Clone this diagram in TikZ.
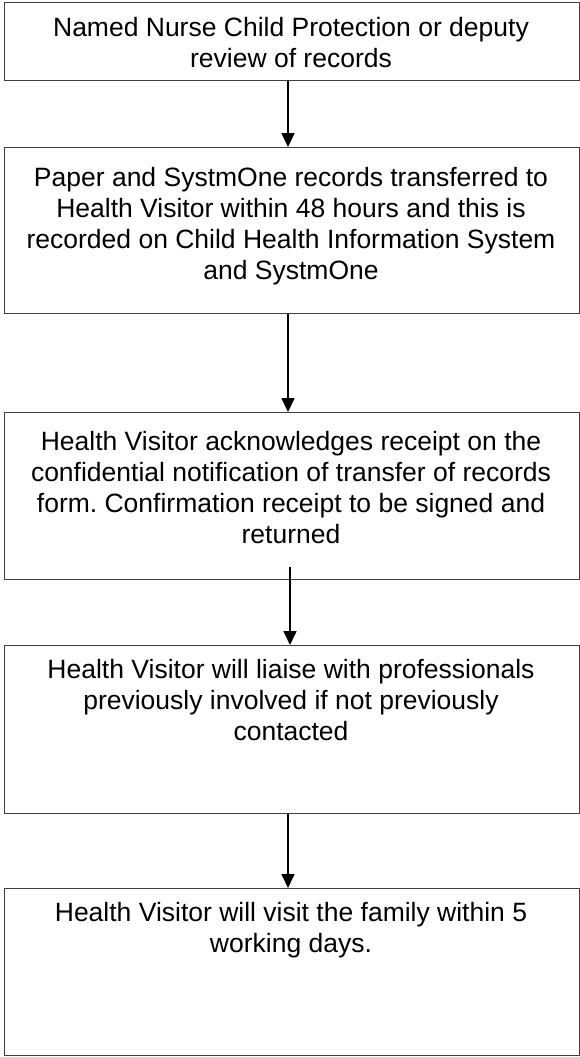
\documentclass[tikz,border=0pt]{standalone}
\usepackage{fontspec}
\setmainfont{Liberation Sans}
\usetikzlibrary{arrows.meta}
\frenchspacing
\tikzset{
  flowbox/.style={draw=black!75, line width=1.3pt, fill=white},
  flowtext/.style={anchor=north, align=center, inner sep=0pt, font=\fontsize{26.5}{31}\selectfont},
  flowarrow/.style={draw=black, line width=1.7pt, -{Triangle[width=13pt,length=14pt]}}
}
\begin{document}
\begin{tikzpicture}[x=1pt,y=-1pt]
\useasboundingbox (0,0) rectangle (580,1057);
% boxes
\node[flowbox, minimum width=575pt, minimum height=78pt, anchor=north west] (b1) at (3.5,2) {};
\node[flowbox, minimum width=575pt, minimum height=166pt, anchor=north west] (b2) at (3.5,147) {};
\node[flowbox, minimum width=575pt, minimum height=167pt, anchor=north west] (b3) at (3.5,412) {};
\node[flowbox, minimum width=575pt, minimum height=168pt, anchor=north west] (b4) at (3.5,645) {};
\node[flowbox, minimum width=575pt, minimum height=167pt, anchor=north west] (b5) at (3.5,888) {};
% texts
\node[flowtext] (t1) at (291,17) {Named Nurse Child Protection or deputy\\review of records};
\node[flowtext] (t2) at (291,167) {Paper and SystmOne records transferred to\\Health Visitor within 48 hours and this is\\recorded on Child Health Information System\\and SystmOne};
\node[flowtext] (t3) at (291,431) {Health Visitor acknowledges receipt on the\\confidential notification of transfer of records\\form. Confirmation receipt to be signed and\\returned};
\node[flowtext] (t4) at (291,659) {Health Visitor will liaise with professionals\\previously involved if not previously\\contacted};
\node[flowtext] (t5) at (291,902) {Health Visitor will visit the family within 5\\working days.};
% arrows
\coordinate (a3s) at (290,567);
\draw[flowarrow] (b1.south -| 288,0) -- (b2.north -| 288,0);
\draw[flowarrow] (b2.south -| 288,0) -- (b3.north -| 288,0);
\draw[flowarrow] (a3s) -- (b4.north -| a3s);
\draw[flowarrow] (b4.south -| 288,0) -- (b5.north -| 288,0);
\end{tikzpicture}
\end{document}
